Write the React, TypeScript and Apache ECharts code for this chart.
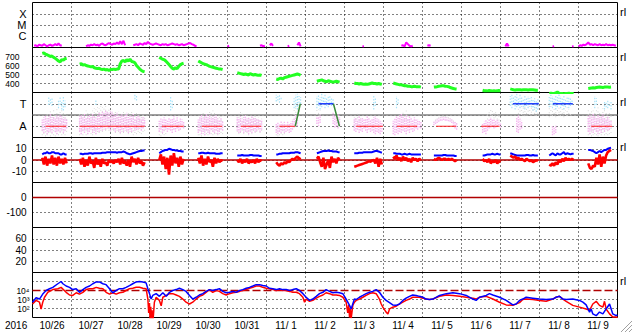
import React, { useEffect, useRef } from 'react';
import * as echarts from 'echarts';

const _ = null;
const FONT = '"Liberation Sans", Arial, sans-serif';

const dayLabels = ['10/26', '10/27', '10/28', '10/29', '10/30', '10/31', '11/ 1', '11/ 2', '11/ 3', '11/ 4', '11/ 5', '11/ 6', '11/ 7', '11/ 8', '11/ 9'];
const yearLabel = '2016';
const xrayLabels: Record<number, string> = { 1: 'C', 2: 'M', 3: 'X' };
const sectorLabels: Record<number, string> = { 1: 'A', 3: 'T' };
const speedTicks = [400, 500, 600, 700];
const bTicks = [-10, 0, 10];
const dstTicks = [-100, 0];
const p6Ticks = [20, 40, 60];
const elecTickLabels: Record<number, string> = { 2: '10²', 3: '10³', 4: '10⁴' };

// hours from 2016-10-26 00:00 UT at which each solar-wind data block starts
const segStart = [6, 29, 78, 102, 126, 150, 175, 198, 222, 247, 277, 294, 318, 342];

const speed = [
  [735, 740, 725, 720, 710, 700, 705, 690, 680, 665, 650, 640, 665, 660, 675, 680],
  [615, 620, 605, 610, 600, 595, 590, 585, 590, 575, 570, 565, 570, 560, 555, 560, 550, 555, 545, 555, 555, 560, 555, 560, 560, 620, 650, 655, 640, 665, 650, 670, 645, 640, 630, 600, 580, 560, 545, 535, 530],
  [690, 680, 670, 665, 650, 630, 610, 590, 570, 560, 575, 565, 590, 610, 620, 625],
  [650, 640, 630, 620, 615, 610, 600, 590, 585, 580, 575, 570, 565, 560, 560, 555],
  [520, 515, 510, 505, 500, 505, 500, 495, 510, 500, 495, 500, 495, 490, 495, 490],
  [450, 445, 455, 460, 450, 465, 470, 475, 480, 485, 490, 495, 500, 505, 500, 490],
  [425, 430, 435, 440, 430, 425, 420, 430, 425, 420, 415, 420, 425, 420, 415],
  [405, 400, 400, 395, 400, 395, 390, 395, 390, 395, 400, 405, 400, 400, 395, 400, 395, 390],
  [405, 400, 395, 390, 385, 385, 380, 375, 375, 370, 370, 365, 365, 370, 365, 365, 365, 360],
  [360, 362, 365, 370, 372, 375, 375, 370, 368, 365, 355, 350, 345, 340, 338],
  [325, 320, 320, 318, 322, 320, 318, 320, 318, 320, 322, 320],
  [340, 335, 330, 328, 330, 332, 330, 328, 330, 332, 330, 328, 330, 332, 330, 328, 325, 325],
  [290, 292, 288, 290, 295, 305, 292, 288, 290, 285, 288, 290, 292, 288, 290, 288],
  [345, 348, 350, 352, 350, 355, 358, 360, 358, 355, 360, 362, 360, 358, 360],
];

const bz = [
  [2, -4, 3, -5, 1, -3, 4, -4, 2, -5, 3, -3, 1, -4, 2, -3],
  [1, -4, 2, -6, 0, -5, 3, -3, -1, -7, 2, -4, 0, -6, 1, -3, -2, -5, 0, -2, -1, -3, 0, -2, 1, -4, 2, -3, -1, -5, 0, -6, 3, -2, 1, -4, 2, -3, -1, -5, -2],
  [0, 5, -4, 3, -8, 2, -13, 4, -5, 6, -3, 2, -6, 3, -4, 1],
  [2, -3, 4, -5, 1, -4, 3, -2, 0, -6, 2, -3, 1, -2, 0, -1],
  [0, -2, 1, -3, 0, -2, 1, -3, -1, -2, 0, -3, 1, -2, 0, -1],
  [-2, -4, -5, -3, -4, -2, -3, -1, -2, 0, 1, 0, 2, 3, 1, 2],
  [1, 3, -2, -6, 2, -8, -4, 0, -7, 3, -2, 1, -3, 2, 0],
  [-6, -5.5, -5, -4.5, -4, -3.5, -3, -2.5, -2, -1, -1.5, -0.5, 0, -3, 2, -6, 1, -4],
  [3, 1, 4, 0, 2, -1, 3, 0, 2, -1, 1, -2, 2, 0, 1, -1, 1, 0],
  [1, 0, 1, 2, 1, 0, 1, 1, 0, 1, 0, 1, 0, -1, 0],
  [1, -1, 0, -2, 1, -3, -1, -2, 0, -3, -1, -2],
  [4, 3, 2, 3, 1, 2, 0, 1, 0, -1, 1, 0, -1, 0, -2, -1, 0, -1],
  [-4, -5, -3, -5, -2, -4, 0, -2, 1, -1, 2, 0, 1, 0, 1, 0],
  [-3, -7, -8, -5, -6, 2, -4, 5, -6, 3, -3, 4, 7, 8, 9],
];

const bt = [
  [5, 6, 6, 7, 6, 6, 7, 7, 6, 6, 6, 5, 5, 6, 5, 5],
  [5.5, 5.5, 5, 5.5, 5.5, 5.5, 6, 6, 5.5, 6, 6, 6, 6, 6, 6.5, 6.5, 6.5, 7, 7, 7, 7, 7, 7, 6.5, 7, 7, 7, 7.5, 7, 6, 5.5, 5, 5.5, 6, 6.5, 7, 7.5, 8, 8, 8.5, 8.5],
  [6, 7, 8, 8.5, 9, 9, 10, 9.5, 9, 9, 8.5, 8.5, 8, 8, 7.5, 7.5],
  [6, 6, 6.5, 6.5, 6, 6, 6.5, 6, 6, 6, 6, 5.5, 5.5, 5.5, 6, 6],
  [4, 4, 4, 4.5, 4, 4, 4, 4, 4.5, 4.5, 4, 4, 4, 4, 3.5, 3.5],
  [5, 5, 5.5, 5.5, 6, 6, 6, 6, 6, 6.5, 6.5, 6.5, 7, 7, 6.5, 6],
  [6, 6.5, 7, 7.5, 8, 8, 8, 8.5, 8, 8, 7.5, 7.5, 7.5, 7, 7],
  [6, 6, 6, 6.5, 6.5, 6.5, 7, 7, 7, 7, 7, 7, 7.5, 8, 8, 7.5, 7, 6.5],
  [6, 6, 5.5, 5.5, 5.5, 5, 5, 5.5, 5, 5, 5.5, 5, 5, 5, 5, 5, 5, 5],
  [4, 4, 4, 4, 4, 4, 4.5, 4.5, 4, 4, 4, 4, 4, 3.5, 3.5],
  [4, 4, 4.5, 5, 5, 5, 5.5, 5, 5, 5.5, 5, 5],
  [6, 5.5, 5, 4.5, 4, 4, 4, 4, 4, 4, 4.5, 4.5, 4, 4, 4.5, 4, 4, 4],
  [4, 5, 6, 5, 4, 6, 5, 5, 6, 7, 5, 6, 5.5, 5, 5.5, 5.5],
  [9, 9, 8.5, 8, 7, 6, 7, 8, 7, 8, 9, 9, 10, 10.5, 11],
];

// sector panel (A = 1, T = 3) scatter clouds, low / high per hour
const pinkHi = [
  [1.6, 1.8, 2.0, 1.7, 1.9, 2.1, 1.8, 1.9, 1.7, 2.0, 1.8, 2.1, 1.9, 1.7, 1.8, 1.6],
  [1.9, 2.0, 1.8, 2.1, 1.7, 1.9, 2.0, 1.8, 2.1, 1.9, 1.7, 2.0, 2.2, 2.1, 2.3, 2.2, 2.4, 2.3, 2.2, 2.4, 2.3, 2.1, 2.0, 2.2, 1.9, 2.0, 2.1, 1.9, 2.0, 2.2, 1.8, 2.0, 1.9, 2.1, 1.7, 1.9, 2.0, 1.8, 1.6, 1.9, 1.7],
  [1.5, 1.7, 1.6, 1.8, 1.7, 1.5, 1.8, 1.6, 1.7, 1.9, 1.6, 1.8, 1.5, 1.7, 1.6, 1.4],
  [1.6, 1.8, 2.0, 1.7, 1.9, 2.1, 1.8, 2.0, 1.7, 1.9, 1.8, 2.0, 1.7, 1.6, 1.8, 1.5],
  [1.8, 1.7, 1.9, 1.6, 1.8, 2.0, 1.7, 1.8, 1.6, 1.9, 1.7, 1.8, 1.6, 1.7, 1.5, 1.6],
  [1.3, 1.4, 1.2, 1.5, 1.3, 1.4, 1.2, 1.5, 1.3, 1.4, 1.6, 1.8, 2.0, 1.6, _, _],
  [1.9, 1.8, 2.0, _, _, _, _, _, _, _, 2.2, 2.0, 1.9, 2.1, 1.8],
  [1.7, 1.8, 1.6, 1.9, 1.7, 1.8, 1.6, 1.7, 1.9, 1.8, 1.6, 1.7, 1.8, 1.9, 1.7, 1.6, 1.5, 1.4],
  [1.5, 1.7, 1.9, 1.8, 2.0, 2.1, 1.9, 1.8, 2.0, 1.7, 1.9, 1.8, 1.6, 1.8, 1.7, 1.6, 1.5, 1.4],
  [1.4, 1.5, 1.6, 1.7, 1.75, 1.8, 1.8, 1.8, 1.75, 1.7, 1.7, 1.6, 1.5, 1.4, 1.3],
  [1.2, 1.4, 1.6, 1.5, 1.7, 1.8, 1.6, 1.7, 1.5, 1.6, 1.4, 1.3],
  [_, _, _, _, 1.8, 2.0, 1.7, 1.5, _, _, _, _, _, _, _, _, _, _],
  [_, _, 1.0, 0.9, 1.1, _, _, _, _, _, _, _, _, _, _, _],
  [1.9, 2.0, 1.8, 2.1, 1.9, 1.7, 2.0, 1.8, 1.9, 2.1, 1.8, 1.7, 1.9, 1.6, 1.5],
];
const pinkLo = [
  [0.6, 0.4, 0.7, 0.3, 0.5, 0.6, 0.4, 0.8, 0.5, 0.3, 0.6, 0.5, 0.7, 0.4, 0.6, 0.8],
  [0.5, 0.3, 0.6, 0.4, 0.7, 0.3, 0.5, 0.8, 0.4, 0.6, 0.3, 0.7, 0.5, 0.8, 0.6, 0.9, 0.7, 1.0, 0.8, 0.6, 0.9, 0.7, 0.5, 0.8, 0.6, 0.4, 0.7, 0.5, 0.8, 0.6, 0.4, 0.7, 0.5, 0.9, 0.6, 0.8, 0.7, 0.9, 0.6, 0.8, 1.0],
  [0.5, 0.7, 0.4, 0.6, 0.8, 0.5, 0.7, 0.6, 0.4, 0.7, 0.5, 0.8, 0.6, 0.7, 0.9, 0.8],
  [0.4, 0.6, 0.3, 0.5, 0.2, 0.6, 0.4, 0.3, 0.7, 0.5, 0.4, 0.6, 0.3, 0.5, 0.7, 0.6],
  [0.6, 0.4, 0.5, 0.7, 0.4, 0.6, 0.5, 0.3, 0.6, 0.4, 0.7, 0.5, 0.6, 0.8, 0.5, 0.7],
  [0.4, 0.3, 0.5, 0.4, 0.6, 0.4, 0.5, 0.6, 0.4, 0.5, 0.7, 0.9, 1.2, 1.0, _, _],
  [1.2, 1.0, 1.3, _, _, _, _, _, _, _, 1.2, 0.9, 1.0, 0.8, 1.1],
  [0.6, 0.5, 0.7, 0.4, 0.6, 0.5, 0.8, 0.6, 0.4, 0.7, 0.5, 0.6, 0.4, 0.3, 0.5, 0.4, 0.3, 0.5],
  [0.3, 0.2, 0.4, 0.3, 0.5, 0.4, 0.6, 0.5, 0.3, 0.6, 0.4, 0.7, 0.5, 0.6, 0.8, 0.7, 0.9, 0.8],
  [1.1, 1.2, 1.3, 1.4, 1.5, 1.5, 1.55, 1.5, 1.5, 1.45, 1.4, 1.3, 1.0, 0.8, 0.7],
  [0.4, 0.5, 0.3, 0.6, 0.8, 0.9, 1.0, 0.8, 0.9, 1.0, 1.1, 0.9],
  [_, _, _, _, 0.5, 0.4, 0.7, 0.8, _, _, _, _, _, _, _, _, _, _],
  [_, _, 0.2, 0.3, 0.4, _, _, _, _, _, _, _, _, _, _, _],
  [0.5, 0.3, 0.6, 0.4, 0.7, 0.5, 0.3, 0.6, 0.4, 0.7, 0.5, 0.8, 0.6, 0.7, 0.9],
];
const cyanHi = [
  [_, _, _, _, 3.7, 3.5, 3.6, _, _, _, 3.4, 3.7, 3.2, 3.6, 3.3, _],
  [_, _, _, _, _, _, _, _, _, _, 3.4, _, _, _, _, _, _, _, _, _, _, _, _, _, _, _, _, _, _, _, _, _, _, _, 3.8, 3.7, _, _, _, _, _],
  [_, _, _, _, _, _, _, 3.7, 3.3, _, _, _, _, _, _, _],
  [_, _, _, _, _, _, _, _, _, _, _, _, _, _, _, _],
  [_, _, _, _, _, _, _, _, _, _, _, _, _, _, _, _],
  [3.8, 3.7, 3.9, 3.6, _, _, _, _, _, _, _, 3.5, 3.8, 3.9, 3.7, 3.6],
  [3.7, 3.8, 3.6, 3.9, 3.7, 3.8, 3.6, 3.7, 3.8, 3.6, 3.5, _, _, _, _],
  [_, _, _, _, _, _, _, _, _, _, _, _, 3.7, 3.5, _, _, _, _],
  [_, _, 3.7, 3.5, _, _, _, _, _, _, _, _, _, _, _, _, _, _],
  [_, _, _, _, _, _, _, _, _, _, _, _, _, _, _],
  [_, _, _, _, _, _, _, _, _, _, _, _],
  [3.7, 3.8, 3.6, 3.7, 3.9, 3.6, 3.8, 3.7, 3.5, 3.8, 3.6, 3.7, 3.5, 3.6, 3.4, 3.5, 3.3, 3.4],
  [3.6, 3.8, 3.7, 3.5, 3.8, 3.6, 3.9, 3.7, 3.6, 3.8, 3.5, 3.7, 3.6, 3.5, 3.4, _],
  [_, _, _, _, 3.7, 3.5, _, _, _, _, 3.3, 3.2, 3.4, 3.1, 3.3],
];
const cyanLo = [
  [_, _, _, _, 2.9, 3.0, 2.8, _, _, _, 2.6, 2.9, 2.5, 2.4, 2.7, _],
  [_, _, _, _, _, _, _, _, _, _, 2.9, _, _, _, _, _, _, _, _, _, _, _, _, _, _, _, _, _, _, _, _, _, _, _, 3.4, 3.3, _, _, _, _, _],
  [_, _, _, _, _, _, _, 2.4, 2.6, _, _, _, _, _, _, _],
  [_, _, _, _, _, _, _, _, _, _, _, _, _, _, _, _],
  [_, _, _, _, _, _, _, _, _, _, _, _, _, _, _, _],
  [3.2, 3.3, 3.1, 3.4, _, _, _, _, _, _, _, 2.6, 2.7, 2.5, 2.8, 3.0],
  [2.6, 2.8, 2.5, 2.7, 2.9, 2.6, 2.8, 2.7, 3.0, 2.8, 3.0, _, _, _, _],
  [_, _, _, _, _, _, _, _, _, _, _, _, 2.5, 2.8, _, _, _, _],
  [_, _, 2.6, 3.0, _, _, _, _, _, _, _, _, _, _, _, _, _, _],
  [_, _, _, _, _, _, _, _, _, _, _, _, _, _, _],
  [_, _, _, _, _, _, _, _, _, _, _, _],
  [2.8, 2.6, 2.9, 2.5, 2.7, 2.8, 2.6, 2.9, 2.7, 2.5, 2.8, 2.6, 2.9, 2.7, 2.4, 2.6, 2.3, 2.5],
  [2.7, 2.9, 2.6, 2.8, 2.5, 2.7, 2.9, 2.6, 2.8, 2.5, 2.7, 2.9, 2.6, 2.8, 2.9, _],
  [_, _, _, _, 2.6, 2.9, _, _, _, _, 2.5, 2.7, 2.6, 2.8, 2.5],
];
const grayHi = [
  [1.2, 1.0, 1.5, 2.3, 2.0, 2.4, 1.8, 2.5, 2.2, 2.6, 2.0, 2.3, 2.7, 2.4, 2.2, 1.9],
  [2.2, 2.0, 2.3, 2.1, 2.4, 2.2, 2.0, 2.3, 2.4, 2.6, 2.5, 2.7, 2.6, 2.8, 2.7, 2.6, 2.8, 2.5, 2.6, 2.4, 2.5, 2.3, 2.4, 2.2, 2.3, 2.1, 2.2, 2.4, 2.3, 2.1, 2.2, 2.0, 2.3, 2.1, 2.0, 2.2, 2.1, 1.9, 2.0, 2.2, 1.9],
  [1.3, 1.1, 1.4, 1.2, 1.0, _, _, _, _, _, _, _, _, _, _, _],
  [1.5, 1.8, 2.1, 2.3, 1.9, 1.8, 2.0, 2.4, 2.3, 2.4, 2.2, 2.0, 1.9, 1.8, 1.9, 1.7],
  [1.9, 2.1, 2.3, 2.2, 2.0, 1.9, 1.8, 1.9, 1.7, 1.9, 1.8, 1.9, 1.7, 1.8, 1.6, 1.7],
  [1.0, 0.9, 1.1, 0.8, 0.9, 1.0, _, _, _, _, _, 2.6, 2.9, 3.1, 2.8, _],
  [2.6, 2.5, 2.4, _, _, _, _, _, _, _, _, _, _, _, _],
  [2.0, 1.9, 2.1, 1.8, 2.0, _, _, _, _, _, _, _, _, _, _, _, _, _],
  [_, _, _, _, _, _, 2.3, 2.2, 2.4, 2.2, 2.1, _, _, _, _, _, _, _],
  [1.6, 1.8, 1.9, 2.0, 2.0, 2.05, 2.1, 2.05, 2.0, 2.0, 1.9, 1.8, 1.7, 1.6, 1.5],
  [_, _, _, 2.2, 2.4, 2.6, 2.5, 2.3, 2.4, 2.2, 2.0, 1.8],
  [_, _, _, _, _, 3.0, 2.8, 3.1, 2.9, 3.2, 3.0, 2.8, 3.1, 2.9, 3.0, 2.8, 2.7, 2.9],
  [2.6, 2.8, 2.5, 2.7, 2.9, 2.6, 2.8, 2.5, 2.9, 2.6, 2.4, 2.7, 2.5, 2.3, _, _],
  [2.5, 2.3, 2.6, 2.4, 2.2, 2.5, 2.7, 2.4, 2.3, 2.6, 2.5, 2.4, 2.2, 2.3, 2.1],
];
const grayLo = [
  [0.2, 0.3, 0.1, 0.2, 0.4, 0.1, 0.3, 0.2, 0.1, 0.3, 0.2, 0.4, 0.2, 0.3, 0.2, 0.5],
  [0.2, 0.3, 0.2, 0.4, 0.2, 0.3, 0.5, 0.3, 0.2, 0.4, 0.3, 0.5, 0.4, 0.6, 0.5, 0.7, 0.6, 0.8, 0.6, 0.5, 0.7, 0.6, 0.4, 0.6, 0.5, 0.3, 0.5, 0.4, 0.6, 0.5, 0.3, 0.5, 0.4, 0.2, 0.4, 0.3, 0.5, 0.4, 0.3, 0.5, 0.6],
  [0.2, 0.1, 0.3, 0.2, 0.3, _, _, _, _, _, _, _, _, _, _, _],
  [0.2, 0.2, 0.1, 0.3, 0.2, 0.3, 0.2, 0.4, 0.3, 0.2, 0.3, 0.3, 0.2, 0.3, 0.4, 0.3],
  [0.5, 0.3, 0.4, 0.6, 0.3, 0.5, 0.4, 0.2, 0.5, 0.3, 0.6, 0.4, 0.5, 0.7, 0.4, 0.6],
  [0.2, 0.1, 0.2, 0.3, 0.2, 0.3, _, _, _, _, _, 2.0, 2.2, 2.4, 2.3, _],
  [2.0, 2.1, 2.0, _, _, _, _, _, _, _, _, _, _, _, _],
  [1.0, 1.2, 1.0, 1.1, 1.3, _, _, _, _, _, _, _, _, _, _, _, _, _],
  [_, _, _, _, _, _, 1.4, 1.5, 1.6, 1.5, 1.4, _, _, _, _, _, _, _],
  [1.3, 1.5, 1.6, 1.7, 1.75, 1.8, 1.8, 1.8, 1.75, 1.7, 1.6, 1.5, 1.4, 1.3, 1.2],
  [_, _, _, 1.6, 1.8, 2.0, 1.9, 1.7, 1.8, 1.6, 1.5, 1.4],
  [_, _, _, _, _, 2.1, 2.3, 2.0, 2.2, 1.9, 2.1, 2.3, 2.0, 2.2, 2.0, 2.1, 1.9, 2.1],
  [1.8, 2.0, 1.9, 2.1, 1.8, 2.0, 2.2, 1.9, 2.1, 1.8, 2.0, 1.9, 2.1, 2.0, _, _],
  [0.2, 0.3, 0.1, 0.2, 0.3, 0.2, 0.1, 0.3, 0.2, 0.4, 0.2, 0.3, 0.2, 0.3, 0.4],
];

// sector polarity: [startHour, endHour]
const awaySegs = [[8, 20.7], [29, 69], [79.6, 93], [104.2, 116.7], [128.2, 140.7], [152, 161.7], [199.2, 215.6], [224.2, 236.7], [248.4, 260.7], [276.1, 287.4], [343.8, 356.7]];
const towardSegs = [[176, 185.2], [295.6, 311.6], [320.2, 332.5]];
// sector boundary crossings: [h0, v0, h1, v1]
const crossings = [[161.7, 1, 164.8, 3], [185.2, 3, 188.9, 1]];

// X-ray flux, log10(flux / 1e-7 W/m2): [startHour, values]
const xraySegs: [number, number[]][] = [
  [1, [0.15, 0.2, 0.1, 0.25, 0.2, 0.15, 0.3, 0.2, 0.1, 0.2, 0.25, 0.15, 0.2, 0.3, 0.2, 0.35, 0.2, 0.15]],
  [33, [0.1, 0.2, 0.15, 0.25, 0.2, 0.3, 0.2, 0.25, 0.15, 0.3, 0.35, 0.25, 0.2, 0.3, 0.4, 0.3, 0.25, 0.35, 0.3, 0.45, 0.3, 0.55, 0.3, 0.6, 0.2]],
  [62, [0.2, 0.25, 0.3, 0.2, 0.35, 0.3, 0.25, 0.4, 0.3, 0.5, 0.35, 0.3, 0.25, 0.3, 0.35, 0.3, 0.25, 0.2, 0.3, 0.25, 0.3, 0.2, 0.25, 0.3, 0.35, 0.3, 0.25, 0.3, 0.2, 0.25, 0.3, 0.2, 0.25, 0.3, 0.35, 0.4, 0.3, 0.25, 0.15, 0.1]],
  [120, [0.1, 0.15]],
  [140, [0.15, 0.2, 0.1, 0.15]],
  [146, [0.2, 0.35, 0.15]],
  [157, [0.1, 0.15]],
  [163, [0.2, 0.45, 0.1]],
  [203, [0.1, 0.12]],
  [227, [0.15, 0.2, 0.1, 0.45, 0.3, 0.15, 0.1, 0.15]],
  [243, [0.15, 0.2, 0.15]],
  [291, [0.1, 0.35, 0.1]],
  [320, [0.1, 0.12]],
  [332, [0.1, 0.12]],
  [336, [0.1, 0.2, 0.15, 0.25, 0.2, 0.3, 0.45, 0.25, 0.3, 0.2, 0.3, 0.25, 0.2, 0.3, 0.2, 0.25, 0.2, 0.3, 0.2, 0.25, 0.2, 0.25, 0.2, 0.15]],
];

// >2 MeV electron flux, log10: [hour, value]
const elecBlue = [
  [0, 2.7], [2.2, 3.2], [4.3, 3.05], [6.3, 3.6], [8.4, 4.0], [10.5, 4.2], [12.5, 4.35], [15.6, 4.75], [17.6, 5.0], [18.7, 4.75], [20.7, 4.5], [22.8, 4.35], [24.8, 4.1], [26.9, 4.2], [28.9, 3.8], [31, 4.1], [33, 4.35], [35.1, 4.5], [37.1, 4.75], [39.2, 4.95], [41.2, 4.95], [43.3, 4.75], [45.3, 4.65], [47.4, 4.2], [49.4, 3.75], [51.5, 4.0], [53.5, 4.2], [55.6, 4.2], [57.6, 4.35], [59.7, 4.55], [61.7, 4.75], [63.8, 4.95], [65.8, 5.0], [67.9, 4.95], [69.9, 4.85], [71, 4.2], [72, 3.65], [73, 3.05], [74, 3.45], [76.1, 3.65], [78.1, 3.35], [80.2, 3.75], [82.3, 3.35], [84.3, 3.8], [86.3, 4.0], [88.4, 4.1], [90.4, 4.25], [92.5, 4.1], [94.5, 3.9], [96.6, 3.45], [98.6, 3.05], [100.7, 3.25], [102.7, 3.5], [104.8, 3.65], [106.8, 3.9], [108.9, 4.1], [110.9, 4.0], [113, 4.1], [115, 4.2],
  [117.1, 3.9], [119.2, 3.75], [121.2, 3.8], [123.3, 3.9], [125.3, 3.8], [127.4, 4.0], [129.4, 4.1], [131.5, 4.25], [133.5, 4.35], [135.6, 4.5], [137.6, 4.65], [139.7, 4.65], [141.7, 4.55], [143.8, 4.5], [145.8, 4.25], [147.9, 4.2], [150, 4.1], [152, 4.2], [154, 4.1], [156.1, 4.1], [158.2, 4.0], [160.2, 4.1], [162.3, 4.2], [164.3, 4.0], [166.4, 3.65], [168.4, 3.25], [170.5, 2.9], [172.5, 3.05], [174.6, 3.35], [176.6, 3.65], [178.7, 3.8], [180.7, 4.1], [182.8, 3.9], [184.8, 3.75], [186.9, 3.8], [188.9, 3.75], [191, 3.65], [193, 3.05], [195.1, 2.35], [196.1, 1.95], [197.1, 2.5], [198.1, 3.05], [199.2, 3.0], [201.2, 3.25], [203.3, 3.45], [205.3, 3.65], [207.4, 3.8], [209.4, 3.9], [211.5, 4.1], [213.5, 3.8], [215.6, 3.25], [217.6, 2.9], [219.7, 2.65], [221.7, 2.4], [223.8, 2.35], [225.8, 2.5], [227.9, 2.9], [229.9, 3.15], [232, 3.35], [234, 3.5], [236.1, 3.45], [238.1, 3.35], [240.2, 3.25], [242.2, 3.05], [244.3, 3.0],
  [246.4, 3.05], [250.5, 3.45], [254.6, 3.65], [258.7, 3.75], [262.8, 3.65], [266.9, 3.45], [271, 3.05], [273, 2.9], [275.1, 3.25], [279.2, 3.45], [281.2, 3.65], [283.3, 3.5], [287.4, 3.25], [291.5, 2.9], [295.6, 2.4], [297.6, 2.5], [299.7, 2.9], [301.7, 3.05], [303.8, 3.25], [307.9, 3.15], [312, 3.05], [316.1, 3.0], [320.2, 3.05], [322.2, 3.25], [324.3, 3.35], [326.4, 3.05], [328.4, 3.0], [332.5, 3.05], [336.6, 2.9], [338.7, 2.7], [340.7, 2.4], [342.8, 1.6], [343.8, 1.95], [344.8, 1.4], [346.9, 1.2], [348.9, 1.6], [351, 1.4], [353, 1.95], [355.1, 2.5], [356.1, 1.95], [357.1, 1.4], [359.2, 1.2], [360, 1.3],
];
const elecRed = [
  [0, 2.5], [2.2, 2.9], [4.3, 2.7], [5.3, 1.95], [6.3, 2.7], [7.4, 3.25], [9.4, 3.8], [12.5, 4.1], [15.6, 4.2], [17.6, 4.35], [20.7, 3.8], [22.8, 3.5], [24.8, 3.45], [26.9, 3.75], [28.9, 3.6], [31, 3.8], [33, 4.1], [35.1, 4.2], [37.1, 4.2], [39.2, 4.35], [41.2, 4.25], [43.3, 4.2], [45.3, 3.8], [47.4, 3.6], [49.4, 3.75], [51.5, 3.6], [53.5, 3.75], [55.6, 3.8], [57.6, 4.0], [59.7, 4.2], [61.7, 4.25], [63.8, 4.35], [65.8, 4.35], [67.9, 4.25], [69.9, 4.2], [71, 3.05], [71.5, 1.5], [72, 2.6], [72.4, 0.5], [72.8, 2.2], [73.2, 0.5], [73.6, 1.8], [74, 0.5], [74.4, 1.2], [75, 2.7], [76.1, 3.25], [78.1, 2.9], [79.2, 2.3], [80.2, 3.25], [82.3, 3.45], [84.3, 3.65], [86.3, 3.65], [88.4, 3.5], [90.4, 3.35], [92.5, 3.05], [94.5, 2.7], [96.6, 2.5], [98.6, 2.7], [100.7, 3.05], [102.7, 3.35], [104.8, 3.5], [106.8, 3.8], [108.9, 4.1], [110.9, 3.8], [113, 4.0], [115, 3.9],
  [117.1, 3.65], [119.2, 3.5], [121.2, 3.65], [123.3, 3.75], [125.3, 3.8], [127.4, 3.9], [129.4, 4.0], [131.5, 4.1], [133.5, 4.25], [135.6, 4.35], [137.6, 4.5], [139.7, 4.5], [141.7, 4.35], [143.8, 4.25], [145.8, 4.2], [147.9, 4.1], [150, 4.0], [152, 4.1], [154, 4.0], [156.1, 4.0], [158.2, 3.9], [160.2, 3.8], [162.3, 3.8], [164.3, 3.65], [166.4, 3.25], [167.4, 2.7], [168.4, 3.05], [170.5, 2.8], [172.5, 2.9], [174.6, 3.15], [176.6, 3.35], [178.7, 3.5], [180.7, 3.75], [182.8, 3.65], [184.8, 3.5], [186.9, 3.5], [188.9, 3.45], [191, 3.25], [193, 2.7], [194, 1.5], [194.6, 2.4], [195.1, 1.0], [195.6, 2.0], [196.1, 0.9], [196.6, 1.6], [197.1, 2.35], [198.1, 2.7], [199.2, 2.9], [201.2, 3.05], [203.3, 3.25], [205.3, 3.45], [207.4, 3.65], [209.4, 3.75], [211.5, 3.65], [213.5, 3.05], [214.6, 2.5], [215.6, 2.15], [217.6, 1.6], [218.7, 1.4], [219.7, 1.95], [221.7, 2.15], [223.8, 2.25], [225.8, 2.5], [227.9, 2.7], [229.9, 2.9], [232, 3.05], [234, 3.25], [236.1, 3.25], [238.1, 3.25], [240.2, 3.15], [242.2, 3.05], [244.3, 3.0],
  [246.4, 3.05], [250.5, 3.35], [254.6, 3.5], [258.7, 3.45], [262.8, 3.35], [266.9, 3.25], [271, 3.15], [273, 3.05], [275.1, 3.25], [279.2, 3.35], [283.3, 3.05], [287.4, 2.7], [291.5, 2.4], [295.6, 2.35], [299.7, 2.65], [301.7, 3.0], [303.8, 3.05], [307.9, 3.0], [312, 2.9], [316.1, 2.8], [320.2, 3.05], [322.2, 3.25], [324.3, 3.35], [326.4, 3.05], [328.4, 2.8], [332.5, 2.35], [336.6, 2.15], [340.7, 1.95], [342.8, 1.8], [344.8, 2.5], [346.9, 2.8], [348.9, 2.35], [351, 2.15], [352, 2.8], [353, 1.95], [355.1, 1.4], [357.1, 1.05], [359.2, 1.05], [360, 1.0],
];

const refLevels = { sectorMid: 2, bZero: 0, dstZero: 0, elecAlert: 4 };
const HOURS = 360;

function segData(vals: (number | null)[][]) {
  const out: any[] = [];
  vals.forEach((seg, i) => {
    const s = segStart[i];
    seg.forEach((v, j) => out.push([s + j, v == null ? '-' : v]));
    out.push([s + seg.length - 0.5, '-']);
  });
  return out;
}
function cloudData(lo: (number | null)[][], hi: (number | null)[][]) {
  const out: number[][] = [];
  lo.forEach((seg, i) => {
    seg.forEach((l, j) => {
      const h = hi[i][j];
      if (l != null && h != null) out.push([segStart[i] + j, l, h]);
    });
  });
  return out;
}
function spanData(spans: number[][], level: number) {
  const out: any[] = [];
  spans.forEach(([a, b]) => { out.push([a, level], [b, level], [b + 0.01, '-']); });
  return out;
}

export default function App() {
  const ref = useRef<HTMLDivElement>(null);
  useEffect(() => {
    if (!ref.current) return;
    const chart = echarts.init(ref.current, undefined, { renderer: 'svg' });
    const N = 7;
    const grids = Array.from({ length: N }, (_v, i) => ({
      left: 32.5, right: 15.5, top: 2.5 + 45 * i, height: 45,
      show: true, borderColor: '#000', borderWidth: 1, backgroundColor: 'transparent',
    }));
    const dotted = { color: '#000', width: 1, type: [1, 3] as any };
    const xAxes: any[] = grids.map((_g, i) => ({
      gridIndex: i, type: 'value', min: 0, max: HOURS, interval: 24, position: 'top',
      axisLine: { show: false }, axisTick: { show: false }, axisLabel: { show: false },
      splitLine: { show: true, showMinLine: false, showMaxLine: false, lineStyle: dotted },
    }));
    xAxes.push({
      gridIndex: 6, type: 'category', data: dayLabels, position: 'bottom', boundaryGap: true,
      axisLine: { show: false }, axisTick: { show: false }, splitLine: { show: false },
      axisLabel: { color: '#000', fontSize: 10, fontFamily: FONT, margin: 3, interval: 0 },
    });
    const yBase = (gi: number, min: number, max: number, interval: number, fmt: (v: number) => string, margin: number, extra: any = {}) => ({
      gridIndex: gi, type: 'value', min, max, interval,
      axisLine: { show: false }, axisTick: { show: false },
      axisLabel: { color: '#000', fontSize: 10, fontFamily: FONT, formatter: fmt, margin, ...(extra.axisLabel || {}) },
      splitLine: { show: true, showMinLine: false, showMaxLine: false, lineStyle: { ...dotted, ...(extra.split || {}) } },
    });
    const yAxes: any[] = [
      yBase(0, 0, 4, 1, (v) => xrayLabels[v] || '', 6, { axisLabel: { fontSize: 11 } }),
      yBase(1, 300, 800, 100, (v) => (speedTicks.includes(v) ? String(v) : ''), 13, { axisLabel: { fontSize: 8.5, lineHeight: 8 } }),
      yBase(2, 0, 4, 1, (v) => sectorLabels[v] || '', 6, { axisLabel: { fontSize: 11 } }),
      yBase(3, -20, 20, 10, (v) => (bTicks.includes(v) ? String(v) : ''), 6),
      yBase(4, -200, 100, 100, (v) => (dstTicks.includes(v) ? String(v) : ''), 6),
      yBase(5, 0, 80, 20, (v) => (p6Ticks.includes(v) ? String(v) : ''), 6),
      yBase(6, 1, 6, 1, (v) => elecTickLabels[v] || '', 3, {
        split: { color: ['#000', '#000', 'rgba(0,0,0,0)', '#000'] },
        axisLabel: { fontSize: 8.5, lineHeight: 8 },
      }),
    ];

    const cloud = (data: number[][], color: string, z: number, dash: number[], width: number) => ({
      type: 'custom', xAxisIndex: 2, yAxisIndex: 2, clip: true, z,
      data, encode: { x: 0, y: [1, 2] },
      renderItem: (_p: any, api: any) => {
        const p1 = api.coord([api.value(0), api.value(1)]);
        const p2 = api.coord([api.value(0), api.value(2)]);
        return {
          type: 'line', shape: { x1: p1[0], y1: p1[1], x2: p2[0], y2: p2[1] },
          style: { stroke: color, lineWidth: width, lineDash: dash },
        };
      },
    });
    const line = (xi: number, data: any[], color: string, width: number, z = 3, extra: any = {}) => ({
      type: 'line', xAxisIndex: xi, yAxisIndex: xi, data, showSymbol: false, symbol: 'none',
      lineStyle: { color, width, ...(extra.lineStyle || {}) }, connectNulls: false, clip: true, z, silent: true,
    });

    const xrayData: any[] = [];
    xraySegs.forEach(([s, vals]) => {
      vals.forEach((v, j) => xrayData.push([s + j, v]));
      xrayData.push([s + vals.length - 0.5, '-']);
    });

    const series: any[] = [
      line(0, xrayData, '#ff00ff', 2),
      line(1, segData(speed), '#22ff22', 3),
      line(2, [[0, refLevels.sectorMid], [HOURS, refLevels.sectorMid]], '#808080', 1.5, 1),
      cloud(cloudData(grayLo, grayHi), '#d6d6d6', 2, [1, 3], 1),
      cloud(cloudData(cyanLo, cyanHi), '#a8e4fa', 2, [1.5, 1.5], 1.2),
      cloud(cloudData(pinkLo, pinkHi), '#f6b8f0', 2, [1.5, 1], 1.4),
      line(2, spanData(awaySegs, 1), '#ff2020', 1.2, 4),
      line(2, spanData(towardSegs, 3), '#2040ff', 1.5, 4),
      line(2, crossings.flatMap(([a, va, b, vb]) => [[a, va], [b, vb], [b + 0.01, '-']]), '#3a8a3a', 1.5, 4),
      line(3, [[0, refLevels.bZero], [HOURS, refLevels.bZero]], '#b00000', 1.5, 1),
      line(3, segData(bt), '#0000ff', 2, 3),
      line(3, segData(bz), '#ff0000', 2.6, 4),
      line(4, [[0, refLevels.dstZero], [HOURS, refLevels.dstZero]], '#b00000', 1.5, 1),
      line(6, [[0, refLevels.elecAlert], [HOURS, refLevels.elecAlert]], '#b00000', 1.5, 1, { lineStyle: { type: [8, 3] } }),
      line(6, elecRed, '#ff0000', 1.5, 3),
      line(6, elecBlue, '#0000ff', 1.5, 4),
    ];

    const rtY = [12, 57, 102, 147, 281];
    const graphic: any[] = [
      { type: 'text', left: 5, top: 320, style: { text: yearLabel, fontSize: 10, fontFamily: FONT, fill: '#000' } },
      ...rtY.map((y) => ({ type: 'text', x: 620, y: y - 6, style: { text: 'rl', fontSize: 11, fontFamily: FONT, fill: '#000' } })),
      { type: 'line', shape: { x1: 632, y1: 321, x2: 621, y2: 332 }, style: { stroke: '#a0a0a0', lineWidth: 1 } },
      { type: 'line', shape: { x1: 632, y1: 325, x2: 625, y2: 332 }, style: { stroke: '#a0a0a0', lineWidth: 1 } },
      { type: 'line', shape: { x1: 632, y1: 329, x2: 629, y2: 332 }, style: { stroke: '#a0a0a0', lineWidth: 1 } },
    ];

    chart.setOption({
      animation: false,
      backgroundColor: '#fff',
      grid: grids,
      xAxis: xAxes,
      yAxis: yAxes,
      series,
      graphic,
    });
    return () => chart.dispose();
  }, []);
  return <div ref={ref} style={{ position: 'fixed', left: 0, top: 0, width: 633, height: 334 }} />;
}
